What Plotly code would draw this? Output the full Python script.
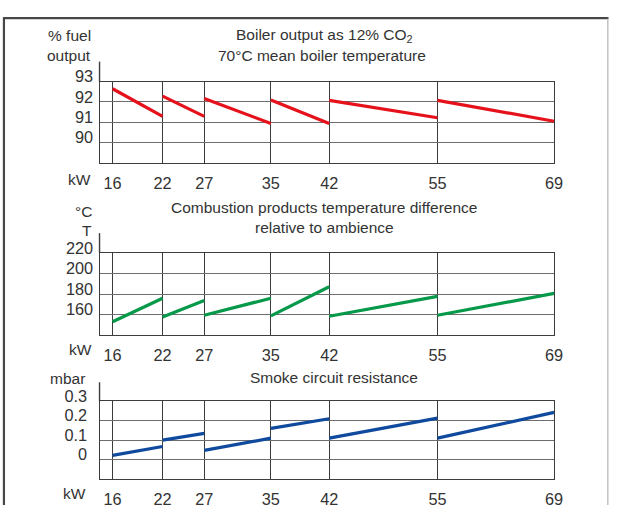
import plotly.graph_objects as go

# ---- data ----
kw = [16, 22, 27, 35, 42, 55, 69]
eff_start = [92.65, 92.29, 92.17, 92.10, 92.08, 92.08]
eff_end = [91.29, 91.29, 90.94, 90.94, 91.22, 91.05]
temp_start = [153.1, 157.8, 159.4, 158.8, 158.4, 159.4]
temp_end = [176.0, 173.8, 176.0, 187.2, 177.8, 180.7]
res_start = [0.021, 0.10, 0.047, 0.16, 0.11, 0.11]
res_end = [0.067, 0.135, 0.11, 0.21, 0.213, 0.243]
eff_ticks = [90, 91, 92, 93]
temp_ticks = [160, 180, 200, 220]
res_ticks = [0, 0.1, 0.2, 0.3]
res_ticktext = ["0", "0.1", "0.2", "0.3"]

W, H = 618, 508
FONT = "Liberation Sans, Arial, sans-serif"
FS = 15.5
TFS = 16.3
TXT = "#333333"


def px(x):
    return x / W


def py(y):
    return 1 - y / H


def segments(start, end):
    xs, ys = [], []
    for i in range(len(start)):
        xs += [kw[i], kw[i + 1], None]
        ys += [start[i], end[i], None]
    return xs, ys


fig = go.Figure()
colors = ["#e5121b", "#07994a", "#0f4a9e"]
for k, (s, e) in enumerate([(eff_start, eff_end), (temp_start, temp_end), (res_start, res_end)]):
    xs, ys = segments(s, e)
    sfx = "" if k == 0 else str(k + 1)
    fig.add_trace(go.Scatter(x=xs, y=ys, mode="lines", line=dict(color=colors[k], width=3.2),
                             xaxis="x" + sfx, yaxis="y" + sfx, showlegend=False, hoverinfo="skip"))

x_left, x_right = 101, 562.3
# (top px, bottom px, range, ticks, ticktext, label standoff, axis-line top px)
panels = [
    (70, 154, [89, 93], eff_ticks, [str(v) for v in eff_ticks], 2, 49.3),
    (247.3, 332.3, [140, 220], temp_ticks, [str(v) for v in temp_ticks], 2, 226.7),
    (400.7, 481, [-0.1, 0.3], res_ticks, res_ticktext, 8, 381),
]

layout = dict(
    width=W, height=H, margin=dict(l=0, r=0, t=0, b=0),
    paper_bgcolor="white", plot_bgcolor="white",
    font=dict(family=FONT, size=FS, color=TXT),
    showlegend=False,
)
shapes = []
for k, (top, bot, rng, tv, tt, so, axtop) in enumerate(panels):
    sfx = "" if k == 0 else str(k + 1)
    layout["xaxis" + sfx] = dict(
        domain=[px(x_left), px(x_right)], range=[14.43, 69], anchor="y" + sfx,
        tickvals=kw, ticktext=[str(v) for v in kw], showgrid=True, gridcolor="#3c3c3c", gridwidth=1.4,
        showline=True, linecolor="#3c3c3c", linewidth=1.4, mirror=True, zeroline=False,
        ticks="", tickfont=dict(family=FONT, size=TFS, color=TXT), fixedrange=True,
        ticklabelstandoff=5,
    )
    layout["yaxis" + sfx] = dict(
        domain=[py(bot), py(top)], range=rng, anchor="x" + sfx,
        tickvals=tv, ticktext=tt, showgrid=True, gridcolor="#6e6e6e", gridwidth=1.4,
        showline=True, linecolor="#3c3c3c", linewidth=1.4, mirror=True, zeroline=False,
        ticks="", tickfont=dict(family=FONT, size=TFS, color=TXT),
        ticklabelshift=-5, ticklabelstandoff=so, fixedrange=True,
    )
    # extension of the left axis line above the plot area
    shapes.append(dict(type="line", xref="paper", yref="paper", x0=px(x_left), x1=px(x_left),
                       y0=py(top), y1=py(axtop), line=dict(color="#3c3c3c", width=1.4)))

# outer frame
shapes += [
    dict(type="line", xref="paper", yref="paper", x0=px(3), x1=px(617.5), y0=py(4.3), y1=py(4.3),
         line=dict(color="#474747", width=2.2)),
    dict(type="line", xref="paper", yref="paper", x0=px(4), x1=px(4), y0=py(4.3), y1=0,
         line=dict(color="#474747", width=2.2)),
    dict(type="line", xref="paper", yref="paper", x0=px(616.8), x1=px(616.8), y0=py(5), y1=0,
         line=dict(color="#bdbdbd", width=1.4)),
]
layout["shapes"] = shapes


def ann(text, x, y, xanchor="center"):
    return dict(text=text, x=px(x), y=py(y), xref="paper", yref="paper", showarrow=False,
                xanchor=xanchor, yanchor="middle", font=dict(family=FONT, size=FS, color=TXT))


annotations = [
    ann("% fuel", 94.5, 22, "right"),
    ann("output", 94.5, 43, "right"),
    ann("Boiler output as 12% CO<sub>2</sub>", 329, 22),
    ann("70°C mean boiler temperature", 327, 43),
    ann("kW", 94.5, 171, "right"),
    ann("°C", 95, 204, "right"),
    ann("T", 95, 224, "right"),
    ann("Combustion products temperature difference", 329, 200),
    ann("relative to ambience", 329, 221),
    ann("kW", 95, 347.5, "right"),
    ann("mbar", 88.5, 377, "right"),
    ann("Smoke circuit resistance", 339, 376),
    ann("kW", 89, 496, "right"),
]
layout["annotations"] = annotations

fig.update_layout(**layout)
fig.write_html(
    "out.html",
    config={"displayModeBar": False},
    post_script=(
        "var st=document.createElement('style');"
        "st.textContent='html,body{margin:0;padding:0;overflow:hidden;}';"
        "document.head.appendChild(st);"
    ),
)
